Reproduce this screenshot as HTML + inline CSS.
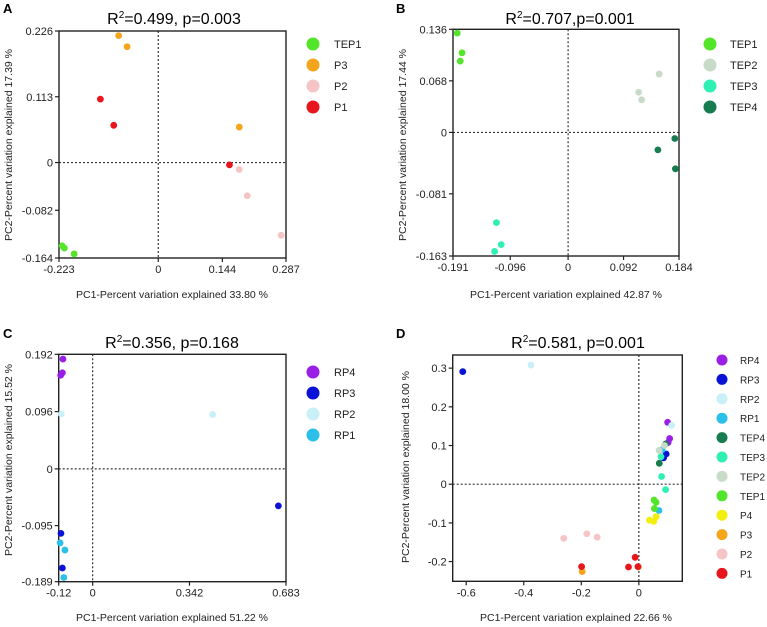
<!DOCTYPE html>
<html><head><meta charset="utf-8"><style>
body{margin:0;background:#fff}
svg{display:block;font-family:"Liberation Sans",Arial,sans-serif}
</style></head><body>
<svg id="fig" width="767" height="627" viewBox="0 0 767 627" xmlns="http://www.w3.org/2000/svg"></svg>
<script>
// Panel A data
const A_groups = ["TEP1","P3","P2","P1"];
const A_colors = ["#52e52a","#f4a51c","#f5c5c5","#e8161c"];
const A_xs = [[-0.216,-0.211,-0.189],[-0.089,-0.070,0.182],[0.182,0.200,0.276],[-0.130,-0.100,0.160]];
const A_ys = [[-0.143,-0.147,-0.157],[0.218,0.199,0.061],[-0.012,-0.057,-0.125],[0.109,0.064,-0.004]];
const A_xticks = [-0.223,0,0.144,0.287];
const A_xtickLabels = ["-0.223","0","0.144","0.287"];
const A_yticks = [0.226,0.113,0,-0.082,-0.164];
const A_ytickLabels = ["0.226","0.113","0","-0.082","-0.164"];
// Panel B data
const B_groups = ["TEP1","TEP2","TEP3","TEP4"];
const B_colors = ["#52e52a","#c8dbc8","#2ff0b2","#177c50"];
const B_xs = [[-0.184,-0.176,-0.179],[0.151,0.117,0.122],[-0.119,-0.111,-0.122],[0.177,0.149,0.178]];
const B_ys = [[0.131,0.105,0.094],[0.077,0.053,0.043],[-0.119,-0.148,-0.157],[-0.008,-0.023,-0.048]];
const B_xticks = [-0.191,-0.096,0,0.092,0.184];
const B_xtickLabels = ["-0.191","-0.096","0","0.092","0.184"];
const B_yticks = [0.136,0.068,0,-0.081,-0.163];
const B_ytickLabels = ["0.136","0.068","0","-0.081","-0.163"];
// Panel C data
const C_groups = ["RP4","RP3","RP2","RP1"];
const C_colors = ["#9a1fe6","#0a12d8","#c9eff7","#2bc0ea"];
const C_xs = [[-0.105,-0.107,-0.113],[-0.112,-0.107,0.656],[-0.111,0.424],[-0.115,-0.098,-0.102]];
const C_ys = [[0.184,0.161,0.157],[-0.108,-0.166,-0.062],[0.092,0.091],[-0.124,-0.136,-0.182]];
const C_xticks = [-0.12,0,0.342,0.683];
const C_xtickLabels = ["-0.12","0","0.342","0.683"];
const C_yticks = [0.192,0.096,0,-0.095,-0.189];
const C_ytickLabels = ["0.192","0.096","0","-0.095","-0.189"];
// Panel D data
const D_groups = ["RP4","RP3","RP2","RP1","TEP4","TEP3","TEP2","TEP1","P4","P3","P2","P1"];
const D_colors = ["#9a1fe6","#0a12d8","#c9eff7","#2bc0ea","#177c50","#2ff0b2","#c8dbc8","#52e52a","#f2ee0e","#f4a51c","#f5c5c5","#e8161c"];
const D_xs = [[0.100,0.107,0.102],[-0.612,0.095,0.086],[-0.375,0.114,0.070],[0.081,0.070],[0.071,0.093],[0.079,0.093,0.077],[0.071,0.089],[0.053,0.060,0.054],[0.037,0.052,0.060],[-0.002,-0.197],[-0.261,-0.181,-0.145],[-0.013,-0.036,-0.199,-0.003]];
const D_ys = [[0.160,0.118,0.108],[0.291,0.078,0.068],[0.308,0.152,0.088],[0.089,-0.068],[0.054,0.104],[0.020,-0.014,0.071],[0.087,0.100],[-0.041,-0.047,-0.063],[-0.093,-0.096,-0.084],[-0.214,-0.226],[-0.140,-0.128,-0.137],[-0.189,-0.214,-0.213,-0.213]];
const D_xticks = [-0.6,-0.4,-0.2,0];
const D_xtickLabels = ["-0.6","-0.4","-0.2","0"];
const D_yticks = [0.3,0.2,0.1,0,-0.1,-0.2];
const D_ytickLabels = ["0.3","0.2","0.1","0","-0.1","-0.2"];

const NS="http://www.w3.org/2000/svg";
const svg=document.getElementById('fig');
function mk(tag,attrs,parent,text){const e=document.createElementNS(NS,tag);for(const k in attrs)e.setAttribute(k,attrs[k]);if(text!==undefined)e.textContent=text;(parent||svg).appendChild(e);return e;}

function panel(p){
  const g=mk('g',{});
  
  
  const sx=v=>p.L+(v-p.x0)/(p.x1-p.x0)*(p.R-p.L);
  const sy=v=>p.B-(v-p.y0)/(p.y1-p.y0)*(p.B-p.T);
  const lt=mk('text',{x:p.lx,y:p.ly,'font-size':13,'font-weight':'bold'},g,p.id);
  
  
  const t=mk('text',{x:p.tx,y:p.ty,'font-size':16,'text-anchor':'middle'},g);
  
  
  mk('tspan',{},t,'R');mk('tspan',{'font-size':10,dy:-6},t,'2');mk('tspan',{dy:6},t,p.title);
  // zero lines
  const zx=mk('line',{x1:sx(0),x2:sx(0),y1:p.T,y2:p.B,stroke:'#333','stroke-width':1.2,'stroke-dasharray':'2,2'},g);
  
  
  const zy=mk('line',{x1:p.L,x2:p.R,y1:sy(0),y2:sy(0),stroke:'#333','stroke-width':1.2,'stroke-dasharray':'2,2'},g);
  
  
  const box=mk('rect',{x:p.L,y:p.T,width:p.R-p.L,height:p.B-p.T,fill:'none',stroke:'#222','stroke-width':1.4},g);
  
  
  p.xt.forEach((v,i)=>{const x=sx(v);
    mk('line',{x1:x,x2:x,y1:p.B,y2:p.B+4,stroke:'#222','stroke-width':1.2},g);
    const tl=mk('text',{x:x,y:p.B+15,'font-size':11,'text-anchor':'middle',fill:'#222'},g,p.xl[i]);
    
    });
  p.yt.forEach((v,i)=>{const y=sy(v);
    mk('line',{x1:p.L-4,x2:p.L,y1:y,y2:y,stroke:'#222','stroke-width':1.2},g);
    const tl=mk('text',{x:p.L-6,y:y+4,'font-size':11,'text-anchor':'end',fill:'#222'},g,p.yl[i]);
    
    });
  const xa=mk('text',{x:p.xax,y:p.xay,'font-size':10.5,'text-anchor':'middle',fill:'#222'},g,p.xlab);
  
  
  const ya=mk('text',{x:0,y:0,'font-size':10.5,'text-anchor':'middle',fill:'#222',transform:`translate(${p.yax},${p.yay}) rotate(-90)`},g,p.ylab);
  
  
  p.groups.forEach((name,gi)=>{
    p.xs[gi].forEach((v,j)=>{
      const c=mk('circle',{cx:sx(v),cy:sy(p.ys[gi][j]),r:3.4,fill:p.colors[gi]},g);
      
      
    });
    const ly=p.legY+gi*p.legStep;
    const le=mk('g',{},g);
    
    
    mk('circle',{cx:p.legX,cy:ly,r:p.legR,fill:p.colors[gi]},le);
    mk('text',{x:p.legTX,y:ly+4,'font-size':p.legFS,fill:'#222'},le,name);
  });
}
panel({id:'A',lx:3,ly:13,tx:174,ty:24,title:'=0.499, p=0.003',L:59,R:286,T:31,B:258,x0:-0.223,x1:0.287,y0:-0.164,y1:0.226,
  xt:A_xticks,xl:A_xtickLabels,yt:A_yticks,yl:A_ytickLabels,xax:172,xay:298,yax:12,yay:145,
  xlab:'PC1-Percent variation explained 33.80 %',ylab:'PC2-Percent variation explained 17.39 %',
  groups:A_groups,colors:A_colors,xs:A_xs,ys:A_ys,legX:313,legTX:334,legY:44,legStep:21,legR:6.5,legFS:11});
panel({id:'B',lx:396,ly:13,tx:570,ty:24,title:'=0.707,p=0.001',L:453,R:679,T:29.3,B:256,x0:-0.191,x1:0.184,y0:-0.163,y1:0.136,
  xt:B_xticks,xl:B_xtickLabels,yt:B_yticks,yl:B_ytickLabels,xax:566,xay:298,yax:406,yay:145,
  xlab:'PC1-Percent variation explained 42.87 %',ylab:'PC2-Percent variation explained 17.44 %',
  groups:B_groups,colors:B_colors,xs:B_xs,ys:B_ys,legX:710,legTX:730,legY:44,legStep:21,legR:6.5,legFS:11});
panel({id:'C',lx:3,ly:338,tx:172,ty:348,title:'=0.356, p=0.168',L:58.7,R:286,T:354.3,B:581.7,x0:-0.12,x1:0.683,y0:-0.189,y1:0.192,
  xt:C_xticks,xl:C_xtickLabels,yt:C_yticks,yl:C_ytickLabels,xax:172,xay:621,yax:12,yay:460,
  xlab:'PC1-Percent variation explained 51.22 %',ylab:'PC2-Percent variation explained 15.52 %',
  groups:C_groups,colors:C_colors,xs:C_xs,ys:C_ys,legX:313,legTX:334,legY:372,legStep:21,legR:6.5,legFS:11});
panel({id:'D',lx:396,ly:338,tx:578,ty:348,title:'=0.581, p=0.001',L:452.7,R:682.3,T:355,B:581.3,x0:-0.647,x1:0.151,y0:-0.251,y1:0.334,
  xt:D_xticks,xl:D_xtickLabels,yt:D_yticks,yl:D_ytickLabels,xax:576,xay:621,yax:409,yay:467,
  xlab:'PC1-Percent variation explained 22.66 %',ylab:'PC2-Percent variation explained 18.00 %',
  groups:D_groups,colors:D_colors,xs:D_xs,ys:D_ys,legX:722,legTX:740,legY:360,legStep:19.4,legR:5.5,legFS:10});
</script>
</body></html>
